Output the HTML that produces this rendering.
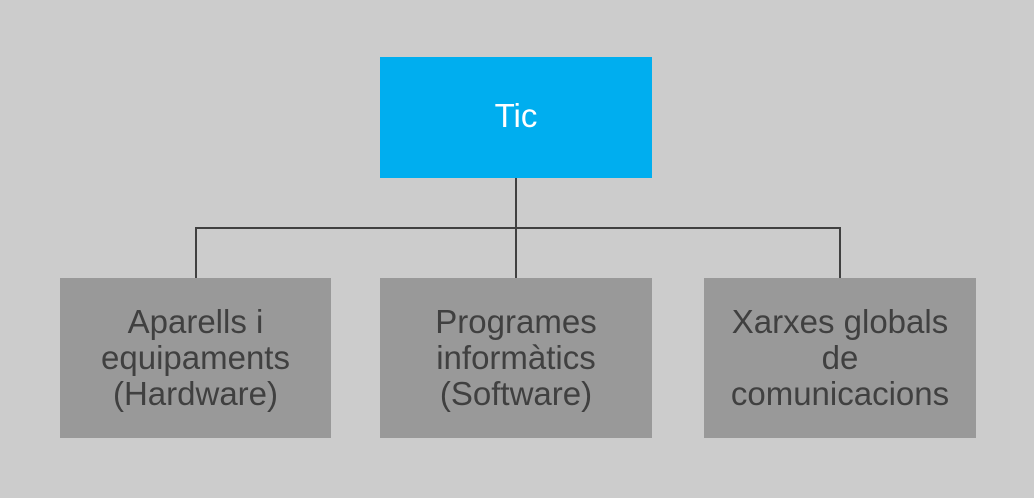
<!DOCTYPE html>
<html><head><style>
html,body{margin:0;padding:0;}
body{width:1034px;height:498px;background:#cccccc;position:relative;overflow:hidden;font-family:"Liberation Sans",Arial,sans-serif;}
.b{position:absolute;display:flex;align-items:center;justify-content:center;text-align:center;font-size:33px;line-height:36px;color:#404040;background:#999999;}
.l{position:absolute;background:#404040;}
</style></head><body>
<div class="b" style="left:380px;top:57px;width:272px;height:117px;padding-bottom:4px;background:#00aeef;color:#fff;">Tic</div>
<div class="l" style="left:515px;top:178px;width:2px;height:100px;"></div>
<div class="l" style="left:195px;top:227px;width:646px;height:2px;"></div>
<div class="l" style="left:195px;top:227px;width:2px;height:51px;"></div>
<div class="l" style="left:839px;top:227px;width:2px;height:51px;"></div>
<div class="b" style="left:60px;top:278px;width:271px;height:160px;">Aparells i<br>equipaments<br>(Hardware)</div>
<div class="b" style="left:380px;top:278px;width:272px;height:160px;">Programes<br>informàtics<br>(Software)</div>
<div class="b" style="left:704px;top:278px;width:272px;height:160px;">Xarxes globals<br>de<br>comunicacions</div>
</body></html>
